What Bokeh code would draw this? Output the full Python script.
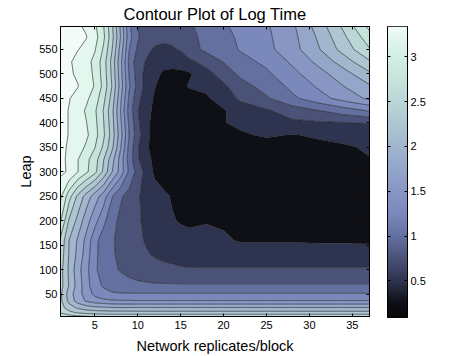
import numpy as np
from bokeh.plotting import figure
from bokeh.layouts import row
from bokeh.models import Range1d, LinearAxis, FixedTicker, LinearColorMapper
from bokeh.embed import file_html
from bokeh.resources import INLINE

# ---------------- data ----------------
replicates = [1, 2, 3, 4, 5, 6, 7, 8, 9, 10, 11, 12, 13, 14, 15, 16, 18, 20, 22, 25, 28, 31, 34, 37]
leaps = [4, 12, 22, 36, 50, 67, 100, 130, 160, 200, 250, 300, 325, 350, 375, 400, 425, 450, 475,
         500, 525, 550, 575, 597]

lt_leap4   = [2.72, 2.62, 2.56, 2.52, 2.49, 2.47, 2.46, 2.46, 2.46, 2.46, 2.46, 2.46, 2.46, 2.46, 2.46, 2.46, 2.46, 2.46, 2.46, 2.46, 2.46, 2.46, 2.46, 2.46]
lt_leap12  = [2.46, 2.32, 2.22, 2.16, 2.13, 2.11, 2.10, 2.10, 2.10, 2.09, 2.09, 2.09, 2.09, 2.09, 2.09, 2.09, 2.09, 2.09, 2.09, 2.09, 2.09, 2.09, 2.09, 2.09]
lt_leap22  = [2.36, 2.12, 1.96, 1.86, 1.81, 1.79, 1.77, 1.76, 1.76, 1.76, 1.76, 1.76, 1.76, 1.76, 1.76, 1.76, 1.76, 1.76, 1.76, 1.76, 1.76, 1.76, 1.76, 1.76]
lt_leap36  = [2.31, 1.92, 1.64, 1.47, 1.37, 1.31, 1.28, 1.27, 1.27, 1.26, 1.26, 1.26, 1.26, 1.26, 1.26, 1.26, 1.26, 1.26, 1.26, 1.26, 1.26, 1.26, 1.26, 1.26]
lt_leap50  = [2.30, 1.88, 1.60, 1.40, 1.18, 1.08, 1.03, 1.02, 1.02, 1.02, 1.02, 1.02, 1.02, 1.02, 1.02, 1.02, 1.02, 1.02, 1.02, 1.02, 1.02, 1.02, 1.02, 1.02]
lt_leap67  = [2.35, 1.98, 1.65, 1.35, 1.10, 0.97, 0.90, 0.85, 0.82, 0.80, 0.79, 0.78, 0.78, 0.78, 0.78, 0.78, 0.78, 0.78, 0.78, 0.78, 0.78, 0.78, 0.78, 0.78]
lt_leap100 = [2.35, 1.95, 1.60, 1.33, 1.03, 0.92, 0.80, 0.73, 0.68, 0.64, 0.61, 0.58, 0.56, 0.55, 0.53, 0.52, 0.52, 0.52, 0.52, 0.52, 0.52, 0.52, 0.52, 0.52]
lt_leap130 = [2.40, 1.98, 1.68, 1.38, 1.05, 0.90, 0.78, 0.70, 0.63, 0.57, 0.52, 0.48, 0.45, 0.42, 0.40, 0.38, 0.37, 0.37, 0.37, 0.37, 0.37, 0.37, 0.37, 0.37]
lt_leap160 = [2.45, 2.00, 1.72, 1.43, 1.08, 0.88, 0.77, 0.70, 0.62, 0.54, 0.48, 0.45, 0.42, 0.38, 0.34, 0.30, 0.30, 0.28, 0.23, 0.23, 0.23, 0.22, 0.22, 0.21]
lt_leap200 = [2.78, 2.22, 1.93, 1.61, 1.34, 1.07, 0.82, 0.70, 0.62, 0.53, 0.45, 0.40, 0.33, 0.27, 0.23, 0.22, 0.24, 0.22, 0.16, 0.13, 0.12, 0.12, 0.13, 0.14]
lt_leap250 = [3.05, 2.60, 2.20, 1.90, 1.62, 1.38, 1.02, 0.78, 0.66, 0.52, 0.44, 0.36, 0.30, 0.23, 0.18, 0.15, 0.12, 0.11, 0.10, 0.10, 0.11, 0.12, 0.13, 0.14]
lt_leap300 = [3.30, 3.22, 3.01, 2.80, 2.58, 2.20, 1.76, 1.40, 0.95, 0.65, 0.40, 0.20, 0.12, 0.10, 0.09, 0.09, 0.09, 0.09, 0.10, 0.10, 0.12, 0.14, 0.17, 0.20]
lt_leap325 = [3.30, 3.21, 3.01, 2.82, 2.61, 2.27, 1.85, 1.40, 0.88, 0.53, 0.34, 0.18, 0.11, 0.09, 0.09, 0.09, 0.09, 0.10, 0.11, 0.12, 0.14, 0.16, 0.19, 0.24]
lt_leap350 = [3.31, 3.22, 3.12, 2.96, 2.76, 2.46, 2.06, 1.52, 0.92, 0.52, 0.28, 0.16, 0.10, 0.09, 0.09, 0.09, 0.10, 0.11, 0.12, 0.14, 0.16, 0.19, 0.22, 0.28]
lt_leap375 = [3.32, 3.24, 3.20, 3.05, 2.85, 2.55, 2.14, 1.60, 1.00, 0.60, 0.31, 0.17, 0.10, 0.09, 0.09, 0.09, 0.12, 0.16, 0.22, 0.28, 0.24, 0.28, 0.33, 0.40]
lt_leap400 = [3.32, 3.24, 3.15, 3.01, 2.82, 2.52, 2.10, 1.55, 0.95, 0.55, 0.30, 0.18, 0.10, 0.09, 0.09, 0.10, 0.15, 0.24, 0.30, 0.38, 0.45, 0.47, 0.49, 0.51]
lt_leap425 = [3.32, 3.24, 3.11, 2.97, 2.79, 2.49, 2.07, 1.49, 0.89, 0.51, 0.32, 0.20, 0.12, 0.10, 0.10, 0.12, 0.17, 0.23, 0.36, 0.47, 0.62, 0.74, 0.88, 1.02]
lt_leap450 = [3.32, 3.26, 3.18, 3.05, 2.88, 2.58, 2.15, 1.55, 0.95, 0.58, 0.35, 0.22, 0.14, 0.12, 0.13, 0.15, 0.22, 0.35, 0.55, 0.72, 0.95, 1.15, 1.35, 1.55]
lt_leap475 = [3.33, 3.28, 3.26, 3.15, 2.98, 2.68, 2.24, 1.64, 1.03, 0.66, 0.39, 0.26, 0.17, 0.16, 0.20, 0.27, 0.30, 0.45, 0.66, 0.84, 1.06, 1.28, 1.50, 1.72]
lt_leap500 = [3.33, 3.28, 3.22, 3.12, 2.95, 2.65, 2.20, 1.60, 0.98, 0.62, 0.42, 0.30, 0.22, 0.20, 0.20, 0.22, 0.40, 0.62, 0.80, 0.95, 1.18, 1.40, 1.65, 1.95]
lt_leap525 = [3.33, 3.28, 3.18, 3.09, 2.93, 2.63, 2.17, 1.57, 0.94, 0.60, 0.48, 0.38, 0.32, 0.32, 0.35, 0.44, 0.60, 0.76, 0.91, 1.06, 1.29, 1.56, 1.87, 2.22]
lt_leap550 = [3.34, 3.30, 3.26, 3.18, 3.02, 2.72, 2.26, 1.65, 1.01, 0.70, 0.55, 0.47, 0.45, 0.47, 0.52, 0.66, 0.80, 0.90, 1.02, 1.18, 1.40, 1.72, 2.10, 2.48]
lt_leap575 = [3.34, 3.31, 3.30, 3.26, 3.10, 2.81, 2.34, 1.74, 1.09, 0.78, 0.62, 0.57, 0.55, 0.56, 0.60, 0.69, 0.81, 0.93, 1.04, 1.20, 1.42, 1.78, 2.20, 2.64]
lt_leap597 = [3.34, 3.31, 3.28, 3.22, 3.05, 2.77, 2.30, 1.70, 1.05, 0.74, 0.68, 0.66, 0.60, 0.62, 0.66, 0.72, 0.83, 0.97, 1.07, 1.22, 1.45, 1.85, 2.30, 2.82]

log_time = [lt_leap4, lt_leap12, lt_leap22, lt_leap36, lt_leap50, lt_leap67, lt_leap100,
            lt_leap130, lt_leap160, lt_leap200, lt_leap250, lt_leap300, lt_leap325, lt_leap350,
            lt_leap375, lt_leap400, lt_leap425, lt_leap450, lt_leap475, lt_leap500, lt_leap525,
            lt_leap550, lt_leap575, lt_leap597]

contour_levels = [0.25, 0.5, 0.75, 1.0, 1.25, 1.5, 1.75, 2.0, 2.25, 2.5, 2.75, 3.0, 3.25]
x_ticks = [5, 10, 15, 20, 25, 30, 35]
y_ticks = [50, 100, 150, 200, 250, 300, 350, 400, 450, 500, 550]
cbar_ticks = [0.5, 1, 1.5, 2, 2.5, 3]

title_text = "Contour Plot of Log Time"
x_label = "Network replicates/block"
y_label = "Leap"

# ---------------- styles ----------------
FONT = "Liberation Sans"
band_colors = ["#0e1016", "#2e3450", "#4a5278", "#6470a0", "#7a88bc", "#8896c4", "#94a6ca",
               "#a2b6ce", "#afc6d2", "#bbd6d6", "#c6e4dc", "#d3efe3", "#e3f7ee", "#f3fbf8"]
FRAME_W, FRAME_H = 309, 290

z = np.array(log_time, dtype=float)
zmin, zmax = float(z.min()), float(z.max())
levels = [zmin - 0.01] + contour_levels + [zmax + 0.01]

# continuous colormap for the colour bar
anchor_vals = [zmin] + contour_levels + [zmax]
anchor_cols = ["#07080b"] + band_colors
def hex2rgb(h):
    h = h.lstrip("#")
    return [int(h[i:i + 2], 16) for i in (0, 2, 4)]
rgb = np.array([hex2rgb(c) for c in anchor_cols], dtype=float)
grid = np.linspace(zmin, zmax, 256)
pal = []
for g in grid:
    r = np.interp(g, anchor_vals, rgb[:, 0]); gg = np.interp(g, anchor_vals, rgb[:, 1]); b = np.interp(g, anchor_vals, rgb[:, 2])
    pal.append("#%02x%02x%02x" % (int(round(r)), int(round(gg)), int(round(b))))

# ---------------- main contour figure ----------------
p = figure(frame_width=FRAME_W, frame_height=FRAME_H, x_range=Range1d(1, 37), y_range=Range1d(4, 597),
           output_backend="svg", toolbar_location=None, title=title_text,
           min_border_left=60, min_border_right=3, min_border_top=26, min_border_bottom=40)
p.background_fill_color = "white"
p.outline_line_color = "black"
p.grid.visible = False

p.contour(x=replicates, y=leaps, z=z, levels=levels, fill_color=band_colors,
          line_color="#1a1a1a", line_width=0.6)

p.title.align = "center"
p.title.vertical_align = "top"
p.title.text_font = FONT
p.title.text_font_size = "16.5px"
p.title.text_font_style = "normal"
p.title.text_color = "black"
p.title.standoff = 4

for ax in (p.xaxis[0], p.yaxis[0]):
    ax.major_tick_in = 3
    ax.major_tick_out = 0
    ax.minor_tick_line_color = None
    ax.axis_line_color = "black"
    ax.major_tick_line_color = "black"
    ax.major_label_text_font = FONT
    ax.major_label_text_font_size = "11px"
    ax.major_label_text_color = "black"
    ax.axis_label_text_font = FONT
    ax.axis_label_text_font_size = "14.5px"
    ax.axis_label_text_font_style = "normal"
    ax.axis_label_text_color = "black"

p.xaxis[0].ticker = FixedTicker(ticks=x_ticks)
p.yaxis[0].ticker = FixedTicker(ticks=y_ticks)
p.xaxis[0].axis_label = x_label
p.yaxis[0].axis_label = y_label
p.xaxis[0].major_label_standoff = 4
p.yaxis[0].major_label_standoff = 3
p.xaxis[0].axis_label_standoff = 6
p.yaxis[0].axis_label_standoff = 2

top_ax = LinearAxis(ticker=FixedTicker(ticks=x_ticks), major_label_text_color=None,
                    major_tick_in=3, major_tick_out=0, minor_tick_line_color=None,
                    axis_line_color="black", major_label_standoff=0)
right_ax = LinearAxis(ticker=FixedTicker(ticks=y_ticks), major_label_text_color=None,
                      major_tick_in=3, major_tick_out=0, minor_tick_line_color=None,
                      axis_line_color="black", major_label_standoff=0)
p.add_layout(top_ax, "above")
p.add_layout(right_ax, "right")

# ---------------- colour bar figure ----------------
cb = figure(frame_width=20, frame_height=291, x_range=Range1d(0, 1), y_range=Range1d(zmin, zmax),
            output_backend="svg", toolbar_location=None, x_axis_location=None, y_axis_location="right",
            min_border_left=15, min_border_right=40, min_border_top=26, min_border_bottom=39)
cb.grid.visible = False
cb.outline_line_color = "black"
mapper = LinearColorMapper(palette=pal, low=zmin, high=zmax)
cb.image(image=[grid.reshape(-1, 1)], x=0, y=zmin, dw=1, dh=zmax - zmin, color_mapper=mapper)
cax = cb.yaxis[0]
cax.ticker = FixedTicker(ticks=cbar_ticks)
cax.major_tick_in = 3
cax.major_tick_out = 0
cax.minor_tick_line_color = None
cax.axis_line_color = "black"
cax.major_label_text_font = FONT
cax.major_label_text_font_size = "11px"
cax.major_label_text_color = "black"
cax.major_label_standoff = 3
left_cax = LinearAxis(ticker=FixedTicker(ticks=cbar_ticks), major_label_text_color=None,
                      major_tick_in=3, major_tick_out=0, minor_tick_line_color=None,
                      axis_line_color="black", major_label_standoff=0)
cb.add_layout(left_cax, "left")

layout = row(p, cb)

open("out.html", "w").write(file_html(layout, INLINE))
